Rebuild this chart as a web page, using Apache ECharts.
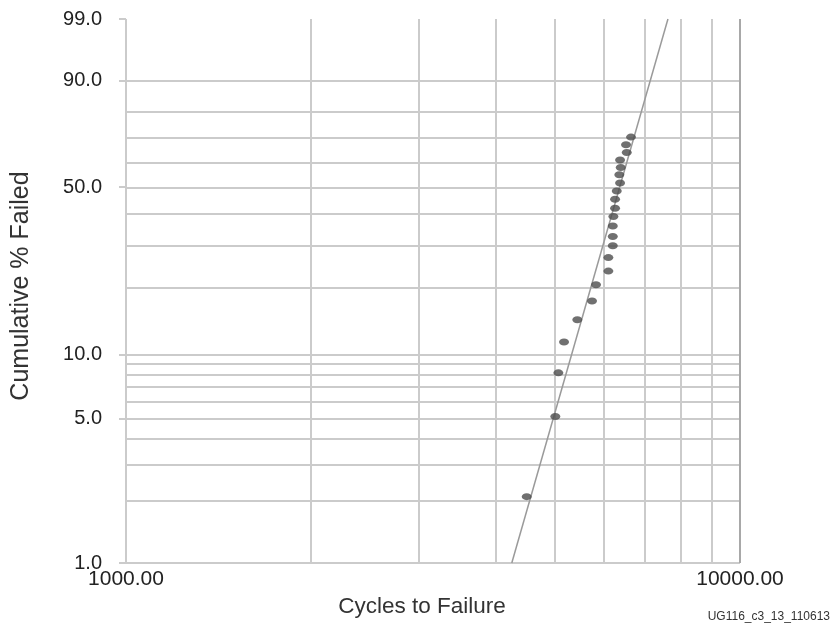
<!DOCTYPE html>
<html>
<head>
<meta charset="utf-8">
<script src="https://cdn.jsdelivr.net/npm/echarts@6/dist/echarts.min.js"></script>
<style>
html,body{margin:0;padding:0;background:#fff;}
#chart{width:833px;height:629px;}
</style>
</head>
<body>
<div id="chart"></div>
<script>
// Data (Weibull probability plot)
const cycles = [4494, 5003, 5060, 5169, 5433, 5741, 5828, 6104, 6104, 6206, 6206, 6206, 6220, 6259, 6259, 6299, 6378, 6360, 6394, 6378, 6540, 6522, 6645];
const percentFailed = [2.1, 5.1, 8.2, 11.4, 14.4, 17.5, 20.6, 23.6, 26.9, 30.1, 32.8, 36.1, 39.2, 42.1, 45.4, 48.5, 51.6, 54.9, 57.9, 61.0, 64.1, 67.3, 70.4];
const fitCycles = [4249, 7632];
const fitPercent = [1, 99];
const gridPercents = [1, 2, 3, 4, 5, 6, 7, 8, 9, 10, 20, 30, 40, 50, 60, 70, 80, 90, 99];
const labelPercents = [1, 5, 10, 50, 90, 99];
const gridCycles = [1000, 2000, 3000, 4000, 5000, 6000, 7000, 8000, 9000, 10000];

// Weibull probability scale transform
function weib(p) { return Math.log(-Math.log(1 - p / 100)); }
function invWeib(w) { return (1 - Math.exp(-Math.exp(w))) * 100; }

const chart = echarts.init(document.getElementById('chart'), null, {renderer: 'canvas'});
const gridColor = '#cbcbcb';
const font = 'Liberation Sans, Arial, Helvetica, sans-serif';

const option = {
  animation: false,
  backgroundColor: '#fff',
  title: {
    text: 'UG116_c3_13_110613',
    right: 3, bottom: 6, padding: 0,
    textStyle: {fontSize: 12, fontWeight: 'normal', color: '#333', fontFamily: font}
  },
  grid: {left: 126, right: 93, top: 19, bottom: 66},
  xAxis: {
    type: 'log', logBase: 10, min: 1000, max: 10000,
    name: 'Cycles to Failure', nameLocation: 'middle', nameGap: 27,
    nameTextStyle: {fontSize: 22.5, color: '#333', fontFamily: font, padding: [0, 22, 0, 0]},
    axisLine: {show: false},
    axisTick: {show: false},
    splitLine: {show: false},
    minorTick: {show: false},
    axisLabel: {
      margin: 6, fontSize: 21, color: '#222', fontFamily: font,
      formatter: v => Number(v).toFixed(2)
    }
  },
  yAxis: {
    type: 'value', min: weib(1), max: weib(99),
    name: 'Cumulative % Failed', nameLocation: 'middle', nameGap: 92, nameRotate: 90,
    nameTextStyle: {fontSize: 25, color: '#333', fontFamily: font, padding: [0, 0, 0, 10]},
    axisLine: {show: false},
    splitLine: {show: false},
    axisTick: {
      show: true, length: 7, inside: false,
      customValues: labelPercents.map(weib),
      lineStyle: {color: gridColor, width: 2}
    },
    axisLabel: {
      margin: 24, fontSize: 20, color: '#222', fontFamily: font,
      customValues: labelPercents.map(weib),
      formatter: v => invWeib(v).toFixed(1)
    }
  },
  series: [
    {
      type: 'line', silent: true, symbol: 'none', data: [], z: 1,
      markLine: {
        silent: true, symbol: 'none', label: {show: false}, z: 1,
        lineStyle: {color: gridColor, width: 2, type: 'solid'},
        data: gridPercents.map(p => ({yAxis: weib(p)})).concat(gridCycles.map(c => ({xAxis: c})))
      }
    },
    {
      type: 'line', silent: true, symbol: 'none', data: [], z: 1,
      markLine: {
        silent: true, symbol: 'none', label: {show: false}, z: 1,
        lineStyle: {color: '#a8a8a8', width: 2, type: 'solid'},
        data: [{yAxis: weib(99)}, {xAxis: 10000}]
      }
    },
    {
      type: 'line', symbol: 'none', z: 6,
      lineStyle: {color: '#9a9a9a', width: 1.5},
      data: fitCycles.map((c, i) => [c, weib(fitPercent[i])])
    },
    {
      type: 'scatter', symbol: 'circle', symbolSize: [10, 7], z: 10,
      itemStyle: {color: '#4c4c4c'},
      data: cycles.map((c, i) => [c, weib(percentFailed[i])])
    }
  ]
};
chart.setOption(option);
</script>
</body>
</html>
